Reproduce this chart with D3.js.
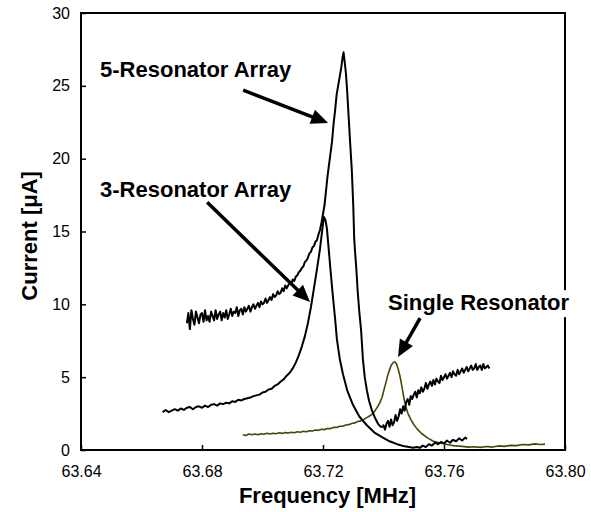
<!DOCTYPE html>
<html>
<head>
<meta charset="utf-8">
<script src="https://cdn.jsdelivr.net/npm/d3@7"></script>
<style>
  body { margin: 0; background: #fff; }
  svg { display: block; font-family: "Liberation Sans", Arial, sans-serif; }
</style>
</head>
<body>
<div id="chart"></div>
<script>
// tick values
const xTicks = [63.64, 63.68, 63.72, 63.76, 63.80];
const yTicks = [0, 5, 10, 15, 20, 25, 30];

// 5-resonator array [frequency MHz, current uA]
const res5 = [
  [63.6750,8.7],[63.6755,9.4],[63.6760,8.3],[63.6765,9.6],[63.6770,9.0],[63.6775,8.6],[63.6780,9.5],[63.6785,9.1],
  [63.6790,8.7],[63.6795,9.3],[63.6800,9.4],[63.6805,8.8],[63.6810,9.6],[63.6815,8.9],[63.6820,9.2],[63.6825,8.8],
  [63.6830,9.5],[63.6835,9.2],[63.6840,8.9],[63.6845,9.6],[63.6850,9.0],[63.6855,9.3],[63.6860,9.5],[63.6865,8.9],
  [63.6870,9.4],[63.6875,9.1],[63.6880,9.6],[63.6885,9.0],[63.6890,9.3],[63.6895,9.7],[63.6900,9.2],[63.6905,9.5],
  [63.6910,9.4],[63.6915,9.8],[63.6920,9.2],[63.6925,9.6],[63.6930,9.7],[63.6935,9.3],[63.6940,9.8],[63.6945,9.5],
  [63.6950,9.7],[63.6955,9.9],[63.6960,9.5],[63.6965,9.8],[63.6970,10.0],[63.6975,9.7],[63.6980,9.9],[63.6985,10.1],
  [63.6990,9.8],[63.6995,10.2],[63.7000,10.0],[63.7005,10.1],[63.7010,10.4],[63.7015,10.1],[63.7020,10.3],[63.7025,10.5],
  [63.7030,10.3],[63.7035,10.7],[63.7040,10.5],[63.7045,10.6],[63.7050,10.9],[63.7055,10.7],[63.7060,10.8],[63.7065,11.1],
  [63.7070,10.9],[63.7075,11.3],[63.7080,11.1],[63.7085,11.3],[63.7090,11.5],[63.7095,11.4],[63.7100,11.7],[63.7105,11.6],
  [63.7110,11.9],[63.7115,12.0],[63.7120,12.2],[63.7125,12.3],[63.7130,12.5],[63.7135,12.6],[63.7140,12.9],[63.7145,13.0],
  [63.7150,13.2],[63.7155,13.5],[63.7160,13.6],[63.7165,13.9],[63.7170,14.0],[63.7175,14.3],[63.7180,14.4],[63.7185,14.8],
  [63.7190,15.1],[63.7195,15.6],[63.7200,16.2],[63.7205,16.8],[63.7210,17.8],[63.7215,18.8],[63.7220,19.6],[63.7225,20.4],
  [63.7230,21.2],[63.7235,22.4],[63.7240,23.3],[63.7245,24.4],[63.7250,25.0],[63.7255,25.6],[63.7260,26.2],[63.7265,27.0],
  [63.7268,27.3],[63.7272,26.6],[63.7276,25.8],[63.7280,24.6],[63.7285,22.8],[63.7290,21.0],[63.7295,19.3],[63.7300,16.8],
  [63.7303,14.6],[63.7306,13.6],[63.7310,12.5],[63.7315,10.8],[63.7320,9.5],[63.7326,8.2],[63.7332,6.2],[63.7338,5.0],
  [63.7345,4.1],[63.7352,3.4],[63.7362,2.7],[63.7372,2.2],[63.7382,1.8],[63.7390,1.6],[63.7398,1.6],
  [63.7400,1.7],[63.7405,1.4],[63.7410,1.8],[63.7415,2.0],[63.7420,1.6],[63.7425,2.1],[63.7430,1.7],[63.7435,1.9],
  [63.7440,2.4],[63.7445,2.0],[63.7450,2.3],[63.7455,2.8],[63.7460,2.5],[63.7465,3.0],[63.7470,2.7],[63.7475,3.3],
  [63.7480,3.5],[63.7485,3.1],[63.7490,3.7],[63.7495,3.5],[63.7500,3.8],[63.7505,4.0],[63.7510,3.6],[63.7515,4.1],
  [63.7520,3.9],[63.7525,4.3],[63.7530,4.0],[63.7535,4.2],[63.7540,4.6],[63.7545,4.2],[63.7550,4.5],[63.7555,4.7],
  [63.7560,4.4],[63.7565,4.8],[63.7570,4.5],[63.7575,4.9],[63.7580,4.7],[63.7585,4.6],[63.7590,5.1],[63.7595,4.8],
  [63.7600,5.0],[63.7605,5.2],[63.7610,4.9],[63.7615,5.1],[63.7620,5.3],[63.7625,5.0],[63.7630,5.4],[63.7635,5.2],
  [63.7640,5.1],[63.7645,5.5],[63.7650,5.2],[63.7655,5.4],[63.7660,5.6],[63.7665,5.3],[63.7670,5.5],[63.7675,5.7],
  [63.7680,5.4],[63.7685,5.6],[63.7690,5.8],[63.7695,5.5],[63.7700,5.6],[63.7705,5.9],[63.7710,5.5],[63.7715,5.7],
  [63.7720,5.8],[63.7725,5.5],[63.7730,5.9],[63.7735,5.6],[63.7740,5.7],[63.7745,5.8],[63.7750,5.6]
];

// 3-resonator array
const res3 = [
  [63.6670,2.6],[63.6680,2.75],[63.6690,2.6],[63.6700,2.7],[63.6710,2.8],[63.6720,2.7],[63.6730,2.85],[63.6740,2.75],
  [63.6750,2.9],[63.6760,2.95],[63.6770,2.8],[63.6780,2.95],[63.6790,3.0],[63.6800,2.9],[63.6810,3.05],[63.6820,2.95],
  [63.6830,3.1],[63.6840,3.15],[63.6850,3.05],[63.6860,3.2],[63.6870,3.15],[63.6880,3.25],[63.6890,3.2],[63.6900,3.35],
  [63.6910,3.3],[63.6920,3.45],[63.6930,3.4],[63.6940,3.5],[63.6950,3.55],[63.6960,3.6],[63.6970,3.7],[63.6980,3.75],
  [63.6990,3.8],[63.7000,3.95],[63.7010,4.0],[63.7020,4.15],[63.7030,4.2],[63.7040,4.4],[63.7050,4.5],[63.7060,4.7],
  [63.7070,4.85],[63.7080,5.1],[63.7090,5.3],[63.7100,5.6],[63.7110,6.0],[63.7120,6.5],[63.7130,7.1],[63.7140,7.8],
  [63.7150,8.7],[63.7160,9.8],[63.7170,11.1],[63.7180,12.4],[63.7190,13.8],[63.7198,15.2],[63.7203,16.0],[63.7208,15.8],
  [63.7213,15.2],[63.7218,14.0],[63.7223,12.8],[63.7228,11.6],[63.7233,10.5],[63.7240,9.0],[63.7246,7.6],[63.7255,6.3],
  [63.7266,5.2],[63.7280,4.1],[63.7299,3.1],[63.7320,2.3],[63.7345,1.7],[63.7370,1.2],[63.7398,0.85],[63.7420,0.6],
  [63.7445,0.4],[63.7470,0.25],[63.7498,0.15],[63.7510,0.2],[63.7520,0.15],[63.7530,0.3],[63.7540,0.2],[63.7550,0.4],
  [63.7560,0.3],[63.7570,0.5],[63.7580,0.4],[63.7590,0.55],[63.7600,0.45],[63.7610,0.65],[63.7620,0.5],[63.7630,0.7],
  [63.7640,0.6],[63.7650,0.8],[63.7660,0.65],[63.7670,0.85],[63.7676,0.75]
];

// single resonator
const single = [
  [63.6935,1.05],[63.6945,1.0],[63.6955,1.1],[63.6965,1.05],[63.6975,1.1],[63.6985,1.05],[63.6995,1.12],[63.7005,1.08],
  [63.7015,1.15],[63.7025,1.1],[63.7035,1.15],[63.7045,1.12],[63.7055,1.18],[63.7065,1.14],[63.7075,1.2],[63.7085,1.16],
  [63.7095,1.22],[63.7105,1.18],[63.7115,1.25],[63.7125,1.22],[63.7135,1.28],[63.7145,1.25],[63.7155,1.32],[63.7165,1.3],
  [63.7175,1.37],[63.7185,1.35],[63.7195,1.42],[63.7205,1.4],[63.7215,1.48],[63.7225,1.47],[63.7235,1.55],[63.7245,1.55],
  [63.7255,1.63],[63.7265,1.63],[63.7275,1.72],[63.7285,1.74],[63.7295,1.82],[63.7305,1.86],[63.7315,1.95],[63.7325,2.0],
  [63.7335,2.1],[63.7345,2.22],[63.7355,2.35],[63.7365,2.5],[63.7372,2.7],[63.7380,2.95],[63.7388,3.25],[63.7395,3.6],
  [63.7400,4.0],[63.7405,4.4],[63.7410,4.8],[63.7415,5.2],[63.7420,5.5],[63.7425,5.8],[63.7432,6.0],[63.7438,6.05],
  [63.7443,5.9],[63.7448,5.6],[63.7453,5.2],[63.7458,4.7],[63.7463,4.1],[63.7468,3.5],[63.7474,2.95],[63.7481,2.5],
  [63.7490,2.1],[63.7500,1.75],[63.7511,1.45],[63.7525,1.15],[63.7544,0.85],[63.7565,0.6],[63.7587,0.48],[63.7610,0.38],
  [63.7625,0.32],[63.7640,0.28],[63.7660,0.25],[63.7680,0.2],[63.7700,0.22],[63.7720,0.18],[63.7740,0.24],[63.7760,0.2],
  [63.7780,0.28],[63.7800,0.25],[63.7820,0.32],[63.7840,0.3],[63.7860,0.38],[63.7880,0.35],[63.7900,0.42],[63.7920,0.38],
  [63.7934,0.4]
];

// annotation labels: text, frequency, current (baseline-left)
const labels = [
  {text: "5-Resonator Array", f: 63.6463, v: 25.6},
  {text: "3-Resonator Array", f: 63.6463, v: 17.4},
  {text: "Single Resonator", f: 63.7415, v: 9.6, boxed: true}
];
// arrows: tail -> tip in data units
const arrows = [
  {f0: 63.6936, v0: 24.7, f1: 63.7217, v1: 22.45},
  {f0: 63.6817, v0: 17.0, f1: 63.7157, v1: 10.16},
  {f0: 63.7521, v0: 9.06, f1: 63.7448, v1: 6.38}
];

const margin = {top: 13, right: 26, bottom: 62, left: 81};
const width = 591 - margin.left - margin.right;
const height = 512 - margin.top - margin.bottom;

const svg = d3.select("#chart").append("svg")
    .attr("width", 591)
    .attr("height", 512);
const g = svg.append("g")
    .attr("transform", "translate(" + margin.left + "," + margin.top + ")");

const x = d3.scaleLinear().domain([63.64, 63.80]).range([0, width]);
const y = d3.scaleLinear().domain([0, 30]).range([height, 0]);

// axes, ticks pointing inward
const xAxis = g.append("g")
    .attr("transform", "translate(0," + height + ")")
    .call(d3.axisBottom(x).tickValues(xTicks).tickFormat(d3.format(".2f"))
        .tickSizeInner(-5).tickSizeOuter(0).tickPadding(16));
const yAxis = g.append("g")
    .call(d3.axisLeft(y).tickValues(yTicks)
        .tickSizeInner(-5).tickSizeOuter(0).tickPadding(11));
[xAxis, yAxis].forEach(a => {
  a.select(".domain").remove();
  a.selectAll("line").attr("stroke", "#000").attr("stroke-width", 1.5);
  a.selectAll("text").attr("font-size", 16).attr("fill", "#000")
      .attr("font-family", "Liberation Sans, Arial, sans-serif");
});

// frame
g.append("rect")
    .attr("x", 0).attr("y", 0)
    .attr("width", width).attr("height", height)
    .attr("fill", "none").attr("stroke", "#000").attr("stroke-width", 2);

// curves
const line = d3.line().x(d => x(d[0])).y(d => y(d[1]));
g.append("path").datum(single)
    .attr("d", line).attr("fill", "none")
    .attr("stroke", "#4a4608").attr("stroke-width", 1.6).attr("stroke-linejoin", "round");
g.append("path").datum(res3)
    .attr("d", line).attr("fill", "none")
    .attr("stroke", "#000").attr("stroke-width", 2).attr("stroke-linejoin", "round");
g.append("path").datum(res5)
    .attr("d", line).attr("fill", "none")
    .attr("stroke", "#000").attr("stroke-width", 2).attr("stroke-linejoin", "round");

// labels
labels.forEach(l => {
  const t = g.append("text")
      .attr("x", x(l.f)).attr("y", y(l.v))
      .attr("font-size", 22).attr("font-weight", "bold").attr("fill", "#000")
      .text(l.text);
  if (l.boxed) {
    const b = t.node().getBBox();
    g.insert("rect", function() { return t.node(); })
        .attr("x", b.x - 2).attr("y", b.y)
        .attr("width", b.width + 4).attr("height", b.height + 2)
        .attr("fill", "#fff");
  }
});

// arrows
arrows.forEach(a => {
  const x0 = x(a.f0), y0 = y(a.v0), x1 = x(a.f1), y1 = y(a.v1);
  const dx = x1 - x0, dy = y1 - y0, len = Math.hypot(dx, dy);
  const ux = dx / len, uy = dy / len;
  const hl = 17, hw = 7.5;
  const bx = x1 - ux * hl, by = y1 - uy * hl;
  g.append("line")
      .attr("x1", x0).attr("y1", y0).attr("x2", bx + ux * 2).attr("y2", by + uy * 2)
      .attr("stroke", "#000").attr("stroke-width", 3.5);
  g.append("path")
      .attr("d", "M" + x1 + "," + y1 +
          "L" + (bx - uy * hw) + "," + (by + ux * hw) +
          "L" + (bx + uy * hw) + "," + (by - ux * hw) + "Z")
      .attr("fill", "#000");
});

// axis titles
svg.append("text")
    .attr("x", margin.left + x(63.7215)).attr("y", 503)
    .attr("text-anchor", "middle")
    .attr("font-size", 22).attr("font-weight", "bold")
    .text("Frequency [MHz]");
svg.append("text")
    .attr("transform", "translate(37," + (margin.top + y(14.7)) + ") rotate(-90)")
    .attr("text-anchor", "middle")
    .attr("font-size", 22).attr("font-weight", "bold")
    .text("Current [μA]");
</script>
</body>
</html>
